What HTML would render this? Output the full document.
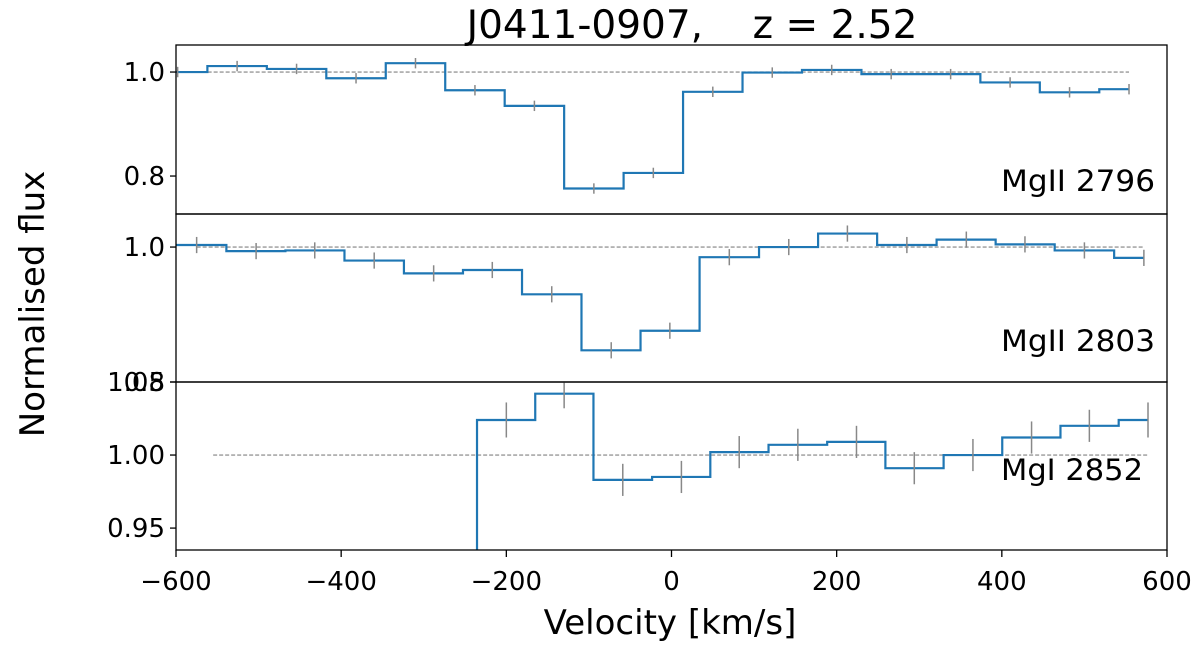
<!DOCTYPE html>
<html><head><meta charset="utf-8"><style>html,body{margin:0;background:#fff;overflow:hidden;width:1200px;height:646px}svg{display:block;font-family:"DejaVu Sans","Liberation Sans",sans-serif}</style></head>
<body>
<svg id="c" width="1200" height="646">
<text x="692" y="38" font-size="39" text-anchor="middle" style="white-space:pre" xml:space="preserve">J0411-0907,    z = 2.52</text>
<text x="0" y="0" font-size="34" text-anchor="middle" transform="translate(44,304) rotate(-90)">Normalised flux</text>
<text x="670" y="634" font-size="34" text-anchor="middle">Velocity [km/s]</text>
</svg>
<script>
const v1 = [-598,-526,-454,-382,-310,-238,-166,-94,-22,50,122,194,266,338,410,482,554];
const f1 = [1.000,1.0115,1.006,0.988,1.017,0.965,0.935,0.776,0.806,0.962,0.999,1.004,0.996,0.996,0.980,0.961,0.967];
const e1 = [0.01,0.01,0.01,0.01,0.01,0.01,0.01,0.01,0.01,0.01,0.01,0.01,0.01,0.01,0.01,0.01,0.01];
const v2 = [-575,-503,-432,-360,-288,-217,-145,-73,-2,70,142,213,285,357,428,500,572];
const f2 = [1.003,0.994,0.995,0.980,0.961,0.966,0.930,0.847,0.876,0.985,1.000,1.020,1.003,1.011,1.004,0.995,0.984];
const e2 = [0.012,0.012,0.012,0.012,0.012,0.012,0.012,0.012,0.012,0.012,0.012,0.012,0.012,0.012,0.012,0.012,0.012];
const v3 = [-271,-200,-130,-59,12,82,153,224,294,365,436,506,577];
const f3 = [0.80,1.024,1.042,0.983,0.985,1.002,1.007,1.009,0.991,1.000,1.012,1.020,1.024];
const e3 = [0,0.012,0.010,0.011,0.011,0.011,0.011,0.011,0.011,0.011,0.011,0.011,0.012];
const xTicks = [-600,-400,-200,0,200,400,600];
const panelNames = ["MgII 2796","MgII 2803","MgI 2852"];
const ticks1 = [0.8,1.0], ticks2 = [0.8,1.0], ticks3 = [0.95,1.00,1.05];

const svg = document.getElementById('c'), NS = 'http://www.w3.org/2000/svg';
const X0 = 176, X1 = 1167;
const xs = v => X0 + (v + 600) / 1200 * (X1 - X0);
function mk(tag, attrs, parent) {
  const el = document.createElementNS(NS, tag);
  for (const k in attrs) el.setAttribute(k, attrs[k]);
  (parent || svg).appendChild(el); return el;
}
const panels = [
  {v:v1,f:f1,e:e1,top:45,bot:214,ymin:0.727,ymax:1.052,ticks:ticks1,fmt:1,dash:[-598,554],lab:[1155,191]},
  {v:v2,f:f2,e:e2,top:214,bot:382,ymin:0.80,ymax:1.049,ticks:ticks2,fmt:1,dash:[-575,572],lab:[1155,351]},
  {v:v3,f:f3,e:e3,top:382,bot:550,ymin:0.935,ymax:1.050,ticks:ticks3,fmt:2,dash:[-555,577],lab:[1143,480]}
];
panels.forEach((p, i) => {
  const ys = val => p.bot - (val - p.ymin) / (p.ymax - p.ymin) * (p.bot - p.top);
  const g = mk('g', {});
  
  
  const cp = mk('clipPath', {id: 'cp' + i}, g);
  mk('rect', {x: X0, y: p.top, width: X1 - X0, height: p.bot - p.top}, cp);
  const inner = mk('g', {'clip-path': 'url(#cp' + i + ')'}, g);
  const dl = mk('line', {x1: xs(p.dash[0]), x2: xs(p.dash[1]), y1: ys(1), y2: ys(1), stroke: '#999', 'stroke-width': 1.3, 'stroke-dasharray': '4,2'}, inner);
  
  
  const n = p.v.length;
  let d = '';
  for (let k = 0; k < n; k++) {
    const L = k === 0 ? p.v[0] - (p.v[1] - p.v[0]) / 2 : (p.v[k - 1] + p.v[k]) / 2;
    const R = k === n - 1 ? p.v[k] : (p.v[k] + p.v[k + 1]) / 2;
    d += (k === 0 ? 'M' : 'L') + xs(L) + ',' + ys(p.f[k]) + 'L' + xs(R) + ',' + ys(p.f[k]);
  }
  const sp = mk('path', {d: d, fill: 'none', stroke: '#1f77b4', 'stroke-width': 2.2}, inner);
  
  
  for (let k = 0; k < n; k++) {
    if (!p.e[k]) continue;
    const eb = mk('g', {stroke: '#888', 'stroke-width': 1.5}, inner);
    
    
    mk('line', {x1: xs(p.v[k]), x2: xs(p.v[k]), y1: ys(p.f[k] - p.e[k]), y2: ys(p.f[k] + p.e[k])}, eb);
  }
  const fr = mk('rect', {x: X0, y: p.top, width: X1 - X0, height: p.bot - p.top, fill: 'none', stroke: '#000', 'stroke-width': 1.3}, g);
  
  
  p.ticks.forEach(t => {
    const y = ys(t);
    mk('line', {x1: X0 - 6, x2: X0, y1: y, y2: y, stroke: '#000', 'stroke-width': 1.3}, g);
    const tl = mk('text', {x: X0 - 11, y: y + 9, 'font-size': 26, 'text-anchor': 'end'}, g);
    tl.textContent = t.toFixed(p.fmt);
    
    
  });
  const lb = mk('text', {x: p.lab[0], y: p.lab[1], 'font-size': 29, 'text-anchor': 'end', 'textLength': i === 2 ? 142 : 154, 'lengthAdjust': 'spacingAndGlyphs'}, g);
  lb.textContent = panelNames[i];
  
  
});
xTicks.forEach(t => {
  mk('line', {x1: xs(t), x2: xs(t), y1: 550, y2: 557, stroke: '#000', 'stroke-width': 1.3});
  const tl = mk('text', {x: xs(t), y: 590, 'font-size': 26, 'text-anchor': 'middle'});
  tl.textContent = t < 0 ? '\u2212' + (-t) : String(t);
  
  
});
</script>
</body></html>
